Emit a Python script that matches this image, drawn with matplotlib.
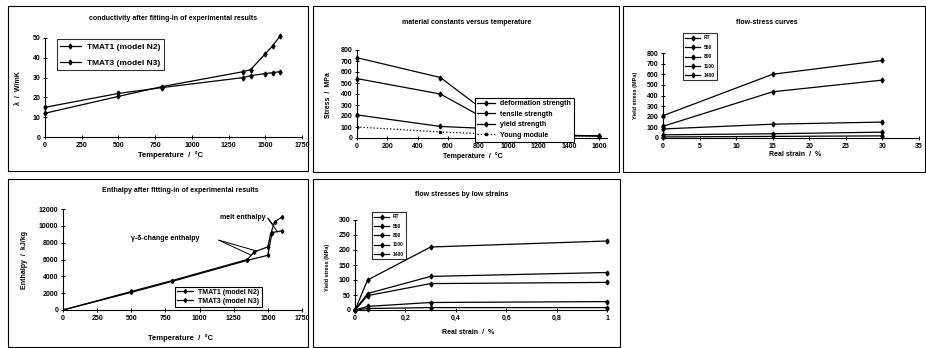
import matplotlib
matplotlib.use("Agg")
from matplotlib import pyplot as plt
from matplotlib.patches import Rectangle

plt.rcParams['font.family'] = ['Liberation Sans', 'DejaVu Sans']
plt.rcParams['font.weight'] = 'bold'
plt.rcParams['font.size'] = 5

# conductivity
cond_t1 = [0, 500, 800, 1350, 1400, 1500, 1550, 1600]
cond_v1 = [12, 20.5, 25.5, 33, 34, 42, 46, 51]
cond_t3 = [0, 500, 800, 1350, 1400, 1500, 1550, 1600]
cond_v3 = [15, 22, 25, 30, 31, 32, 32.5, 33]

# material constants
mat_t = [0, 550, 800, 1400, 1600]
deform = [730, 550, 290, 24, 20]
tensile = [540, 400, 210, 22, 20]
yield_s = [210, 105, 90, 21, 20]
young = [100, 55, 40, 20, 18]

# flow-stress curves
flow_strain = [0, 15, 30]
flow_labels = ['RT', '550', '800', '1100', '1400']
flow_vals = [[210, 600, 730],
             [110, 435, 545],
             [85, 130, 150],
             [30, 40, 55],
             [10, 15, 20]]

# enthalpy
enth_t1 = [0, 500, 800, 1350, 1400, 1500, 1520, 1550, 1600]
enth_v1 = [0, 2200, 3500, 6000, 6900, 7500, 9000, 10500, 11000]
enth_t3 = [0, 500, 800, 1350, 1500, 1530, 1600]
enth_v3 = [0, 2100, 3400, 5900, 6500, 9200, 9400]

# low strain flow stresses
low_strain = [0, 0.05, 0.3, 1]
low_vals = [[0, 100, 210, 230],
            [0, 55, 112, 125],
            [0, 48, 88, 92],
            [0, 12, 25, 28],
            [0, 5, 8, 8]]

W, H = 926, 348
fig = plt.figure(figsize=(W / 100, H / 100), dpi=100)


def px_axes(l, t, r, b):
    return fig.add_axes([l / W, 1 - b / H, (r - l) / W, (b - t) / H])


def style(ax):
    for s in ['top', 'right']:
        ax.spines[s].set_visible(False)
    for s in ['left', 'bottom']:
        ax.spines[s].set_linewidth(0.8)
    ax.tick_params(direction='inout', length=3, width=0.7, labelsize=5, pad=2)


def ptext(x, y, s, **kw):
    fig.text(x / W, 1 - y / H, s, ha='center', va='center', **kw)


# panel frames
for l, t, r, b in [(8, 6, 308, 171), (313, 6, 619, 172), (623, 6, 925, 172),
                   (8, 179, 308, 347), (313, 179, 620, 347)]:
    fig.add_artist(Rectangle((l / W, 1 - b / H), (r - l) / W, (b - t) / H,
                             transform=fig.transFigure, fill=False, lw=0.8, ec='black'))

line = dict(color='black', lw=0.9, marker='d', ms=2.5, clip_on=False)

# panel 1
ax = px_axes(45, 38, 302, 137)
ax.plot(cond_t1, cond_v1, label='TMAT1 (model N2)', **line)
ax.plot(cond_t3, cond_v3, label='TMAT3 (model N3)', **line)
ax.set_xlim(0, 1750)
ax.set_ylim(0, 50)
ax.set_xticks(range(0, 1751, 250))
ax.set_yticks(range(0, 51, 10))
style(ax)
leg = ax.legend(loc='upper left', bbox_to_anchor=(0.045, 0.985), borderaxespad=0,
                fancybox=False, edgecolor='black', fontsize=6, handlelength=2.5,
                labelspacing=1.0)
leg.get_frame().set_linewidth(0.8)
ptext(173, 18, 'conductivity after fitting-in of experimental results')
ptext(170, 155, 'Temperature  /  °C', fontsize=5.5)
ptext(19, 88, 'λ  /  W/mK', rotation=90)

# panel 2
ax = px_axes(357, 50, 607, 138)
ax.plot(mat_t, deform, label='deformation strength', **line)
ax.plot(mat_t, tensile, label='tensile strength', **line)
ax.plot(mat_t, yield_s, label='yield strength', **line)
ax.plot(mat_t, young, label='Young module', color='black', lw=0.9, ls=':', marker='s', ms=2)
ax.set_xlim(0, 1650)
ax.set_ylim(0, 800)
ax.set_xticks(range(0, 1601, 200))
ax.set_yticks(range(0, 801, 100))
style(ax)
leg = ax.legend(loc='lower left', bbox_to_anchor=(0.47, -0.04), borderaxespad=0,
                fancybox=False, edgecolor='black', fontsize=5, handlelength=2.5,
                labelspacing=0.5, framealpha=1)
leg.get_frame().set_linewidth(0.8)
leg.set_zorder(5)
ptext(467, 23, 'material constants versus temperature')
ptext(473, 156, 'Temperature  /  °C')
ptext(328, 95, 'Stress  /  MPa', rotation=90)

# panel 3
ax = px_axes(663, 53, 919, 138)
for lab, vals in zip(flow_labels, flow_vals):
    ax.plot(flow_strain, vals, label=lab, **line)
ax.set_xlim(0, 35)
ax.set_ylim(0, 800)
ax.set_xticks(range(0, 36, 5))
ax.set_yticks(range(0, 801, 100))
style(ax)
leg = ax.legend(loc='upper left', bbox_to_anchor=(0.078, 1.235), borderaxespad=0,
                fancybox=False, edgecolor='black', fontsize=3.5, handlelength=3,
                labelspacing=0.9, borderpad=0.5)
leg.get_frame().set_linewidth(0.8)
ptext(767, 23, 'flow-stress curves')
ptext(795, 155, 'Real strain  /  %')
ptext(635, 95, 'Yield stress (MPa)', rotation=90, fontsize=4)

# panel 4
ax = px_axes(63, 209, 302, 310)
ax.plot(enth_t1, enth_v1, label='TMAT1 (model N2)', color='black', lw=0.9, marker='d', ms=2)
ax.plot(enth_t3, enth_v3, label='TMAT3 (model N3)', color='black', lw=0.9, marker='d', ms=2)
ax.set_xlim(0, 1750)
ax.set_ylim(0, 12000)
ax.set_xticks(range(0, 1751, 250))
ax.set_yticks(range(0, 12001, 2000))
style(ax)
leg = ax.legend(loc='lower left', bbox_to_anchor=(0.47, 0.03), borderaxespad=0,
                fancybox=False, edgecolor='black', fontsize=5, handlelength=2.2,
                labelspacing=0.3, borderpad=0.3, framealpha=1)
leg.get_frame().set_linewidth(0.8)
arrow = dict(arrowstyle='-', color='black', lw=0.7, shrinkA=0, shrinkB=0)
for xy in [(1545, 10000), (1570, 9300)]:
    ax.annotate('', xy=xy, xytext=(1500, 10900), arrowprops=arrow)
ax.text(1150, 10950, 'melt enthalpy', fontsize=5, va='center')
for xy in [(1380, 6500), (1420, 7000)]:
    ax.annotate('', xy=xy, xytext=(1140, 8300), arrowprops=arrow)
ax.text(500, 8450, 'γ-δ-change enthalpy', fontsize=5, va='center')
ptext(180, 191, 'Enthalpy after fitting-in of experimental results')
ptext(180, 338, 'Temperature  /  °C', fontsize=5.5)
ptext(24, 260, 'Enthalpy  /  kJ/kg', rotation=90)

# panel 5
ax = px_axes(355, 220, 607, 310)
for lab, vals in zip(flow_labels, low_vals):
    ax.plot(low_strain, vals, label=lab, **line)
ax.set_xlim(0, 1)
ax.set_ylim(0, 300)
ax.set_xticks([0, 0.2, 0.4, 0.6, 0.8, 1])
ax.set_xticklabels(['0', '0,2', '0,4', '0,6', '0,8', '1'])
ax.set_yticks(range(0, 301, 50))
style(ax)
leg = ax.legend(loc='upper left', bbox_to_anchor=(0.067, 1.09), borderaxespad=0,
                fancybox=False, edgecolor='black', fontsize=3.5, handlelength=3,
                labelspacing=0.9, borderpad=0.5)
leg.get_frame().set_linewidth(0.8)
ptext(462, 194, 'flow stresses by low strains')
ptext(468, 333, 'Real strain  /  %')
ptext(327, 267, 'Yield stress (MPa)', rotation=90, fontsize=4)

fig.savefig('out.png', dpi=100)
